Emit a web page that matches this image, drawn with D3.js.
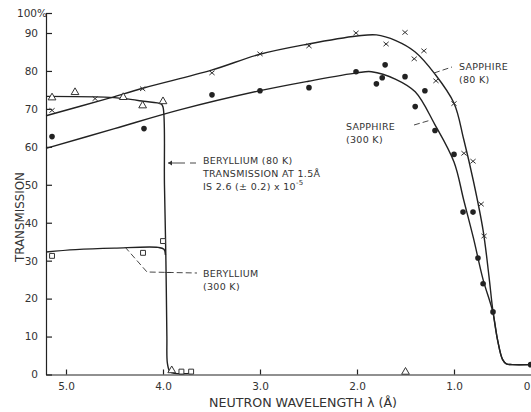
<!DOCTYPE html>
<html>
<head>
<meta charset="utf-8">
<script src="https://cdn.jsdelivr.net/npm/d3@7"></script>
<style>
  body { margin: 0; background: #fff; }
  svg { display: block; font-family: "DejaVu Sans", sans-serif; }
  .axis path, .axis line { stroke: #222; stroke-width: 1.2; }
  .axis text { font-family: "DejaVu Sans", sans-serif; font-size: 10.5px; fill: #333; }
  .note { font-size: 9.5px; fill: #333; letter-spacing: 0.3px; }
</style>
</head>
<body>
<svg width="531" height="412"></svg>
<script>
(function() {

    // measured points [wavelength (Å), transmission (%)]
    const sapphire80Pts = [[5.144, 69.6], [4.70, 72.7], [4.21, 75.3], [3.495, 79.5], [3.0, 84.5], [2.495, 86.6], [2.01, 90.0], [1.70, 87.1], [1.505, 90.3], [1.41, 83.2], [1.31, 85.3], [1.186, 77.4], [1.0, 71.4], [0.897, 58.3], [0.804, 56.2], [0.72, 44.9], [0.69, 36.5]];
    const sapphire300Pts = [[5.144, 62.7], [4.196, 64.8], [3.495, 73.7], [3.0, 74.8], [2.495, 75.6], [2.01, 79.8], [1.80, 76.6], [1.74, 78.2], [1.71, 81.6], [1.505, 78.5], [1.40, 70.6], [1.30, 74.8], [1.196, 64.3], [1.0, 58.0], [0.907, 42.8], [0.804, 42.8], [0.753, 30.7], [0.70, 23.9], [0.598, 16.5], [0.21, 2.6]];
    const beryllium80Pts = [[5.144, 72.7], [4.907, 74.1], [4.41, 72.8], [4.21, 70.6], [4.0, 71.7], [3.91, 0.8], [1.5, 0.4]];
    const beryllium300Pts = [[5.144, 31.0], [4.206, 31.8], [4.0, 34.9], [3.81, 0.5], [3.71, 0.5]];

    // hand drawn curves through the points
    const sapphire80Fit = [[5.206, 68.2], [4.6, 72.5], [4.2, 75.5], [3.5, 80.2], [3.0, 84.4], [2.5, 87.1], [2.0, 89.2], [1.8, 89.5], [1.6, 88.0], [1.4, 85.0], [1.2, 79.3], [1.0, 71.5], [0.9, 62], [0.8, 51], [0.7, 38], [0.64, 26], [0.6, 17], [0.55, 9], [0.5, 4], [0.46, 2.8], [0.4, 2.6], [0.206, 2.6]];
    const sapphire300Fit = [[5.206, 59.6], [4.5, 64.8], [3.82, 69.8], [3.0, 74.8], [2.5, 77.3], [2.0, 79.5], [1.85, 79.8], [1.6, 77.8], [1.4, 74.5], [1.2, 66], [1.0, 56], [0.9, 46], [0.8, 36], [0.7, 25], [0.6, 16.5], [0.55, 9], [0.5, 4], [0.46, 2.8], [0.4, 2.6], [0.206, 2.6]];
    const beryllium80Fit = [[5.206, 73.3], [4.6, 73.1], [4.4, 72.7], [4.2, 72.0], [4.02, 71.3], [4.0, 70.5], [3.985, 50], [3.97, 30], [3.96, 10], [3.955, 3], [3.93, 0.8], [3.88, 0.3], [3.7, 0.3]];
    const beryllium300Fit = [[5.206, 32.3], [4.9, 32.9], [4.5, 33.3], [4.05, 33.5], [3.99, 33], [3.975, 31.5]];

    const xTicks = [5.0, 4.0, 3.0, 2.0, 1.0, 0.2];
    const yTicks = [0, 10, 20, 30, 40, 50, 60, 70, 80, 90, 100];

    const svg = d3.select('svg');

    // wavelength runs right to left
    const x = d3.scaleLinear().domain([5.0, 1.0]).range([66, 454]);
    const x0 = x.invert(46), x1 = x.invert(531);
    x.domain([x0, x1]).range([46, 531]);

    // the top of the printed axis is squeezed: 100% sits close to 90
    const y = d3.scaleLinear().domain([0, 90, 100]).range([374.5, 33, 13]);

    svg.append('g')
        .attr('class', 'axis')
        .attr('transform', 'translate(0,374.5)')
        .call(d3.axisBottom(x).tickValues(xTicks).tickFormat(d3.format('.1f')).tickSizeInner(-5).tickSizeOuter(0).tickPadding(8));

    const gy = svg.append('g')
        .attr('class', 'axis')
        .attr('transform', 'translate(46,0)')
        .call(d3.axisLeft(y).tickValues(yTicks).tickFormat(d => d === 100 ? '100%' : d).tickSizeInner(-6).tickSizeOuter(0).tickPadding(8));

    gy.selectAll('.tick text')
        .filter(d => d === 100)
        .attr('text-anchor', 'start')
        .attr('x', -29);

    svg.append('text')
        .attr('transform', 'translate(24,217) rotate(-90)')
        .attr('text-anchor', 'middle')
        .attr('font-size', 13)
        .attr('textLength', 90)
        .attr('lengthAdjust', 'spacingAndGlyphs')
        .attr('fill', '#333')
        .text('TRANSMISSION');

    svg.append('text')
        .attr('x', 303)
        .attr('y', 407)
        .attr('text-anchor', 'middle')
        .attr('font-size', 13)
        .attr('textLength', 188)
        .attr('lengthAdjust', 'spacingAndGlyphs')
        .attr('fill', '#333')
        .text('NEUTRON WAVELENGTH λ (Å)');

    // curves
    const line = d3.line()
        .x(d => x(d[0]))
        .y(d => y(d[1]))
        .curve(d3.curveCatmullRom.alpha(0.5));

    [sapphire80Fit, sapphire300Fit, beryllium80Fit, beryllium300Fit].forEach(fit => {
        svg.append('path')
            .attr('d', line(fit))
            .attr('fill', 'none')
            .attr('stroke', '#222')
            .attr('stroke-width', 1.4);
    });

    // markers
    svg.append('g').selectAll('circle')
        .data(sapphire300Pts)
        .enter()
        .append('circle')
        .attr('cx', d => x(d[0]))
        .attr('cy', d => y(d[1]))
        .attr('r', 2.8)
        .attr('fill', '#222');

    const cross = svg.append('g')
        .selectAll('g')
        .data(sapphire80Pts)
        .enter()
        .append('g')
        .attr('transform', d => `translate(${ x(d[0]) },${ y(d[1]) })`)
        .attr('stroke', '#333')
        .attr('stroke-width', 1);
    cross.append('line').attr('x1', -2.6).attr('y1', -2.2).attr('x2', 2.6).attr('y2', 2.2);
    cross.append('line').attr('x1', -2.6).attr('y1', 2.2).attr('x2', 2.6).attr('y2', -2.2);

    svg.append('g').selectAll('path')
        .data(beryllium80Pts)
        .enter()
        .append('path')
        .attr('d', d3.symbol(d3.symbolTriangle, 26))
        .attr('transform', d => `translate(${ x(d[0]) },${ y(d[1]) - 1 })`)
        .attr('fill', '#fff')
        .attr('stroke', '#333')
        .attr('stroke-width', 1);

    svg.append('g').selectAll('path')
        .data(beryllium300Pts)
        .enter()
        .append('path')
        .attr('d', d3.symbol(d3.symbolSquare, 24))
        .attr('transform', d => `translate(${ x(d[0]) },${ y(d[1]) - 1 })`)
        .attr('fill', '#fff')
        .attr('stroke', '#333')
        .attr('stroke-width', 1);

    // labels and leaders
    const note = (lines, tx, ty) => {
        const t = svg.append('text').attr('class', 'note');
        lines.forEach((s, i) => {
            t.append('tspan').attr('x', tx).attr('y', ty + i * 13).text(s);
        });
        return t;
    };

    const leader = (pts, dash) => {
        svg.append('path')
            .attr('d', d3.line()(pts))
            .attr('fill', 'none')
            .attr('stroke', '#333')
            .attr('stroke-width', 0.9)
            .attr('stroke-dasharray', dash || null);
    };

    note(['SAPPHIRE', '(80 K)'], 459, 70);
    leader([[434, 73], [452, 67]], '6,3');

    note(['SAPPHIRE', '(300 K)'], 346, 130);
    leader([[414, 125], [431, 120]], '6,3');

    note(['BERYLLIUM (80 K)', 'TRANSMISSION AT 1.5Å'], 203, 164);
    const l3 = svg.append('text').attr('class', 'note').attr('x', 203).attr('y', 190);
    l3.append('tspan').text('IS 2.6 (± 0.2) x 10');
    l3.append('tspan').attr('dy', -5).attr('font-size', 7).text('-5');
    leader([[168, 163], [185, 163]]);
    leader([[190, 163], [196, 163]]);
    svg.append('path')
        .attr('d', 'M168,163 l4,-2.5 v5 z')
        .attr('fill', '#333');

    note(['BERYLLIUM', '(300 K)'], 203, 277);
    leader([[125, 247], [147, 272], [197, 273]], '6,3');
    leader([[165, 272.5], [171, 272.5]]);

})();
</script>
</body>
</html>
